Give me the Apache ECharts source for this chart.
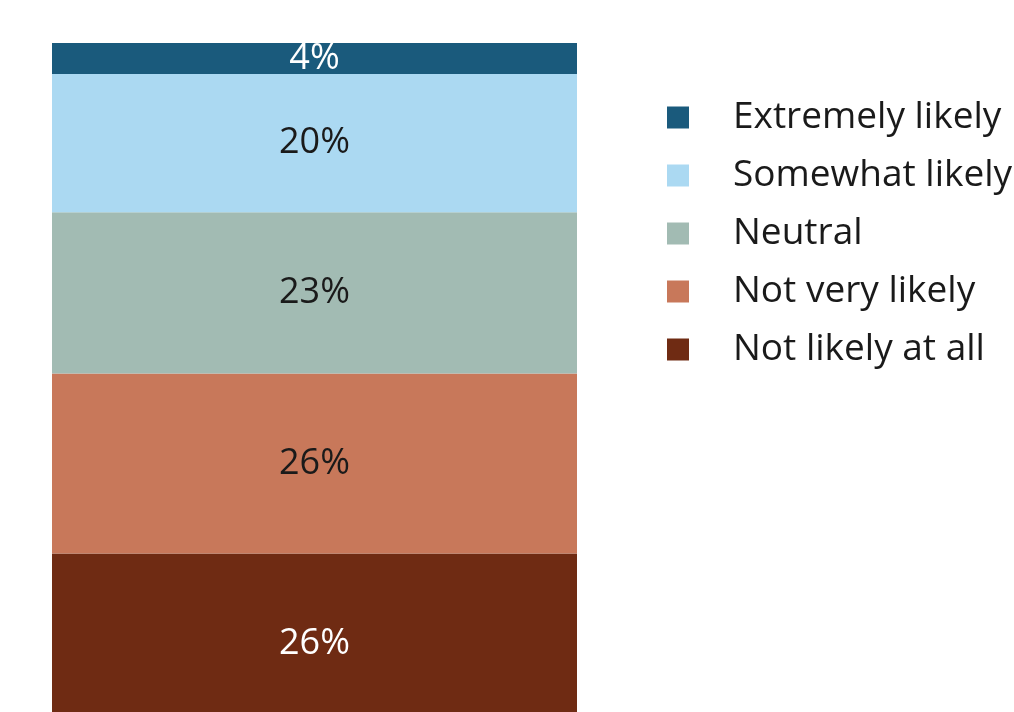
<!DOCTYPE html>
<html>
<head>
<meta charset="utf-8">
<script src="https://cdn.jsdelivr.net/npm/echarts@6/dist/echarts.min.js"></script>
<style>html,body{margin:0;padding:0;background:#fff}#c{width:1014px;height:712px}</style>
</head>
<body>
<div id="c"></div>
<script>
var categories = ['All'];
var seriesNames = ['Not likely at all', 'Not very likely', 'Neutral', 'Somewhat likely', 'Extremely likely'];
var notLikelyAtAll = [26];
var notVeryLikely = [25.9];
var neutral = [23.2];
var somewhatLikely = [19.9];
var extremelyLikely = [4.45];
var legendOrder = ['Extremely likely', 'Somewhat likely', 'Neutral', 'Not very likely', 'Not likely at all'];

var colors = {
  'Not likely at all': '#6f2b13',
  'Not very likely': '#c8785a',
  'Neutral': '#a2bbb3',
  'Somewhat likely': '#abd9f2',
  'Extremely likely': '#1a5a7c'
};
var labelColors = {
  'Not likely at all': '#ffffff',
  'Not very likely': '#1a1a1a',
  'Neutral': '#1a1a1a',
  'Somewhat likely': '#1a1a1a',
  'Extremely likely': '#ffffff'
};
var dataMap = {
  'Not likely at all': notLikelyAtAll,
  'Not very likely': notVeryLikely,
  'Neutral': neutral,
  'Somewhat likely': somewhatLikely,
  'Extremely likely': extremelyLikely
};
var total = 0;
seriesNames.forEach(function(n){ total += dataMap[n][0]; });
// the bottom of the bar runs past the picture edge: the visible axis starts a little above zero
var pxPerUnit = 6.95;
var gridTop = 43, gridHeight = 712 - 43;
var axisMin = total - gridHeight / pxPerUnit;

var chart = echarts.init(document.getElementById('c'), null, {renderer: 'canvas'});
chart.setOption({
  animation: false,
  backgroundColor: '#ffffff',
  grid: {left: 52, top: gridTop, width: 525, height: gridHeight, containLabel: false},
  xAxis: {type: 'category', data: categories, show: false},
  yAxis: {type: 'value', min: axisMin, max: total, show: false},
  legend: {
    orient: 'vertical',
    left: 667,
    top: 99,
    padding: 0,
    itemWidth: 22,
    itemHeight: 22,
    itemGap: 21,
    icon: 'rect',
    data: legendOrder,
    textStyle: {fontFamily: 'Open Sans', fontSize: 37, color: '#1a1a1a', padding: [0, 0, 0, 39]}
  },
  series: seriesNames.map(function(n){
    return {
      name: n,
      type: 'bar',
      stack: 'total',
      barWidth: 525,
      clip: false,
      data: dataMap[n],
      itemStyle: {color: colors[n]},
      label: {
        show: true,
        position: 'inside',
        fontFamily: 'Open Sans',
        fontSize: 36,
        color: labelColors[n],
        formatter: function(p){ return Math.round(p.value) + '%'; }
      }
    };
  })
});
</script>
</body>
</html>
